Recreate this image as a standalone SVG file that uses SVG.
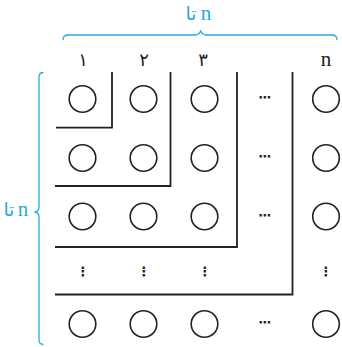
<svg xmlns="http://www.w3.org/2000/svg" width="342" height="347" viewBox="0 0 342 347">
<style>
.c{fill:none;stroke:#222;stroke-width:1.6}
.l{fill:none;stroke:#222;stroke-width:1.8}
.b{fill:none;stroke:#27aae1;stroke-width:1.3}
.lat{font-family:"Liberation Serif",serif;font-size:21px;text-anchor:middle}
.ar{font-family:"DejaVu Sans",sans-serif;font-size:19px;text-anchor:middle}
.dg{font-family:"DejaVu Sans",sans-serif;font-size:18px;text-anchor:middle;fill:#222}
.dt{font-family:"DejaVu Sans",sans-serif;font-weight:bold;font-size:13px;text-anchor:middle;fill:#222}
.blue{fill:#27aae1}
</style>
<g id="top-brace">
<path class="b" d="M63 40 Q63 35 68 35 L195 35 Q199 35 200.7 31 Q202.5 35 206 35 L332 35 Q337 35 337 40"/>
<text class="lat blue" x="206" y="20">n</text>
<text class="ar blue" x="191" y="20">تا</text>
</g>
<g id="left-brace">
<path class="b" d="M43.5 72.5 Q39 72.5 39 77 L39 207 Q39 211.5 34.5 212 Q39 212.5 39 217 L39 340 Q39 344.5 43.5 344.5"/>
<text class="lat blue" x="23" y="216">n</text>
<text class="ar blue" x="9" y="216">تا</text>
</g>
<g id="column-labels">
<text class="dg" x="83" y="66">۱</text>
<text class="dg" x="144" y="66">۲</text>
<text class="dg" x="203" y="66">۳</text>
<text class="lat" x="326" y="66" fill="#222">n</text>
</g>
<g id="connectors">
<path class="l" d="M56 127.7 H112 V72"/>
<path class="l" d="M55 186 H170.5 V72"/>
<path class="l" d="M55 247 H237 V72"/>
<path class="l" d="M55 294.5 H292.5 V72"/>
</g>
<g id="row1">
<circle class="c" cx="82.5" cy="99" r="13.3"/>
<circle class="c" cx="143.5" cy="99" r="13.3"/>
<circle class="c" cx="204.5" cy="99" r="13.3"/>
<text class="dt" x="265" y="102">⋯</text>
<circle class="c" cx="326" cy="99" r="13.3"/>
</g>
<g id="row2">
<circle class="c" cx="82.5" cy="158" r="13.3"/>
<circle class="c" cx="143.5" cy="158" r="13.3"/>
<circle class="c" cx="204.5" cy="158" r="13.3"/>
<text class="dt" x="265" y="161">⋯</text>
<circle class="c" cx="326" cy="158" r="13.3"/>
</g>
<g id="row3">
<circle class="c" cx="82.5" cy="216.5" r="13.3"/>
<circle class="c" cx="143.5" cy="216.5" r="13.3"/>
<circle class="c" cx="204.5" cy="216.5" r="13.3"/>
<text class="dt" x="265" y="219.5">⋯</text>
<circle class="c" cx="326" cy="216.5" r="13.3"/>
</g>
<g id="row4">
<text class="dt" x="83" y="276">⋮</text>
<text class="dt" x="144" y="276">⋮</text>
<text class="dt" x="205" y="276">⋮</text>
<text class="dt" x="326" y="276">⋮</text>
</g>
<g id="row5">
<circle class="c" cx="82.5" cy="324" r="13.3"/>
<circle class="c" cx="143.5" cy="324" r="13.3"/>
<circle class="c" cx="204.5" cy="324" r="13.3"/>
<text class="dt" x="265" y="327">⋯</text>
<circle class="c" cx="326" cy="324" r="13.3"/>
</g>
</svg>
